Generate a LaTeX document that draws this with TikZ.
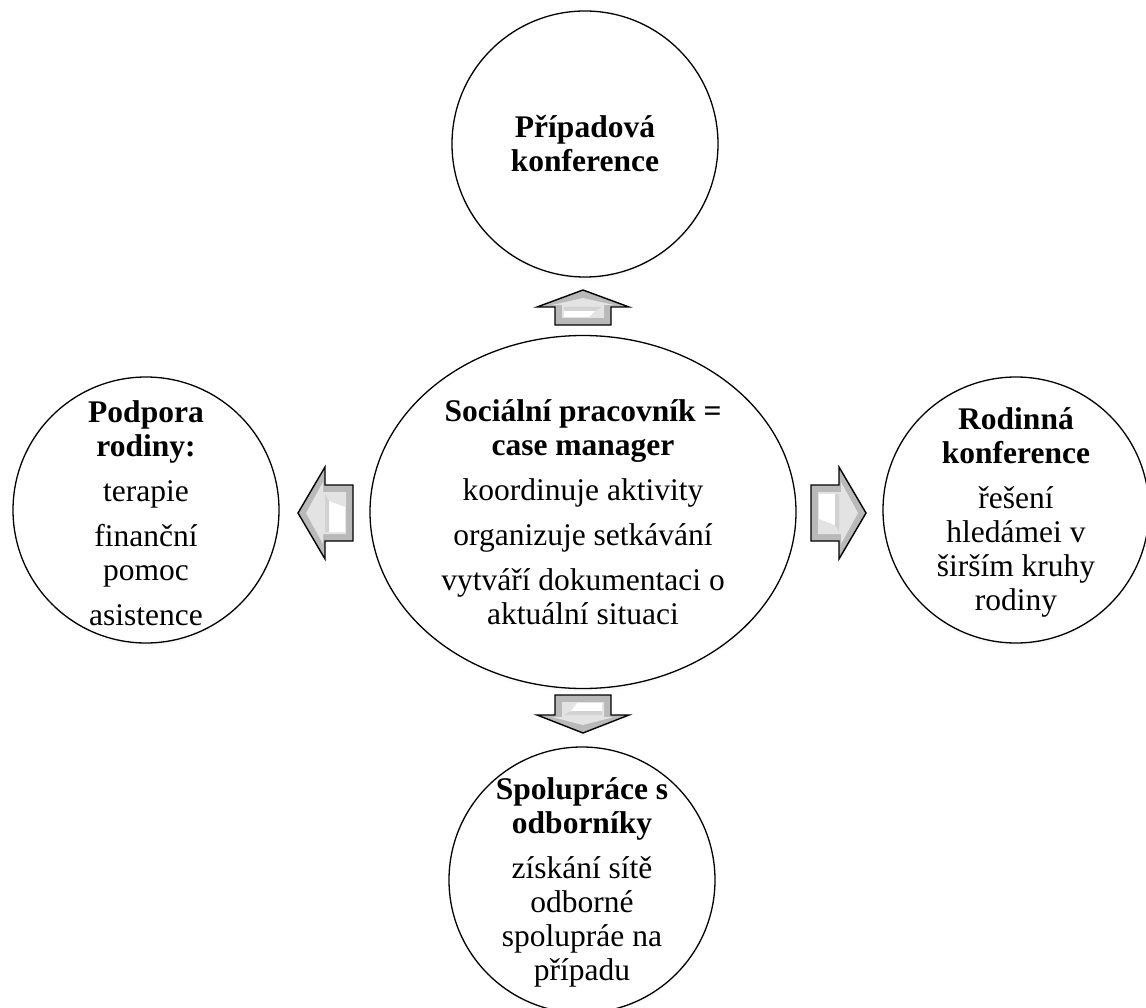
\documentclass[tikz,border=0pt]{standalone}
\usepackage{fontspec}
\setmainfont{Liberation Serif}
\usetikzlibrary{shapes.geometric,shadows}
\tikzset{
  x=1pt, y=-1pt,
  bubble/.style={circle, draw=black, line width=1.3pt, fill=white, minimum size=266pt, inner sep=0pt,
    circular drop shadow={shadow xshift=0pt, shadow yshift=-4pt, opacity=.35, shadow scale=1}},
  hub/.style={ellipse, draw=black, line width=1.3pt, fill=white, minimum width=426pt, minimum height=353pt, inner sep=0pt,
    circular drop shadow={shadow xshift=0pt, shadow yshift=-4pt, opacity=.35, shadow scale=1}},
  txt/.style={align=center, inner sep=0pt, font=\fontsize{31.5}{34}\selectfont},
  pics/barrow/.style n args={2}{code={
    \fill[gray!55] (0,0) -- (46,#2) -- (28,#2) -- (28,#1) -- (-28,#1) -- (-28,#2) -- (-46,#2) -- cycle;
    \fill[gray!22] (0,8) -- (31,{#2-2}) -- (21,{#2-2}) -- (21,{#1-7}) -- (-21,{#1-7}) -- (-21,{#2-2}) -- (-31,{#2-2}) -- cycle;
    \fill[white] (-19,{#1-8}) -- (6,{#1-8}) -- (12,{#2+4}) -- (-19,{#2+4}) -- cycle;
    \fill[gray!35] (-19,{#2+4}) -- (12,{#2+4}) -- (19,{#2}) -- (-19,{#2}) -- cycle;
    \draw[line width=1.4pt, line join=miter] (0,0) -- (46,#2) -- (28,#2) -- (28,#1) -- (-28,#1) -- (-28,#2) -- (-46,#2) -- cycle;
  }}
}
\begin{document}
\begin{tikzpicture}
\useasboundingbox (0,0) rectangle (1146,1008);

\node[hub] (hub) at (583,512) {};
\node[bubble] (top) at (585,144) {};
\node[bubble] (left) at (146,510) {};
\node[bubble] (right) at (1016,510) {};
\node[bubble] (bottom) at (582,880) {};

\node[txt] (hubtxt) at (hub.center) {\textbf{Sociální pracovník =}\\\textbf{case manager}\\[11pt]koordinuje aktivity\\[11pt]organizuje setkávání\\[11pt]vytváří dokumentaci o\\aktuální situaci};
\node[txt] (toptxt) at (top.center) {\textbf{Případová}\\\textbf{konference}};
\node[txt] (lefttxt) at ([yshift=-3pt]left.center) {\textbf{Podpora}\\\textbf{rodiny:}\\[11pt]terapie\\[11pt]finanční\\pomoc\\[11pt]asistence};
\node[txt] (righttxt) at ([yshift=-2pt]right.center) {\textbf{Rodinná}\\\textbf{konference}\\[11pt]řešení\\hledámei v\\širším kruhy\\rodiny};
\node[txt] (bottomtxt) at ([yshift=-2pt]bottom.center) {\textbf{Spolupráce s}\\\textbf{odborníky}\\[11pt]získání sítě\\odborné\\spolupráe na\\případu};

\pic (atop) at (583,290) {barrow={35}{17}};
\pic[rotate=90] (aleft) at (298,513) {barrow={55}{27}};
\pic[rotate=-90] (aright) at (866,513) {barrow={55}{27}};
\pic[rotate=180] (abottom) at (583,733) {barrow={38}{18}};
\end{tikzpicture}
\end{document}
